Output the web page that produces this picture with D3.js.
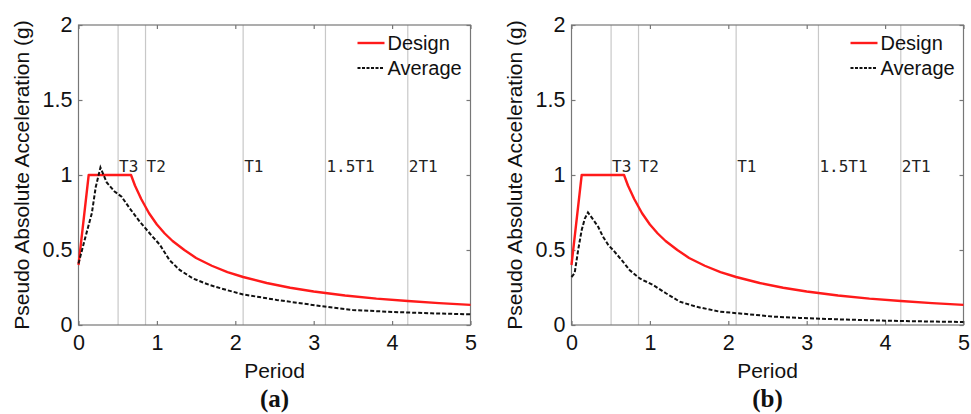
<!DOCTYPE html>
<html>
<head>
<meta charset="utf-8">
<script src="https://cdn.jsdelivr.net/npm/d3@7"></script>
<style>
  body { margin: 0; background: #fff; }
  svg text { font-family: "Liberation Sans", Arial, sans-serif; }
  svg text.ref { font-family: "DejaVu Sans Mono", monospace; }
  svg text.tag { font-family: "Liberation Serif", "Times New Roman", serif; font-weight: bold; }
</style>
</head>
<body>
<div id="chart"></div>
<script>
// Design spectrum (same in both panels)
const designT = [0, 0.13, 0.67, 0.72, 0.8, 0.9, 1.0, 1.1, 1.2, 1.35, 1.5, 1.7, 1.9, 2.1, 2.4, 2.7, 3.0, 3.4, 3.8, 4.2, 4.6, 5.0];
const designSa = [0.4, 1.0, 1.0, 0.93, 0.84, 0.745, 0.67, 0.61, 0.56, 0.50, 0.447, 0.395, 0.353, 0.32, 0.28, 0.248, 0.223, 0.197, 0.176, 0.16, 0.146, 0.134];

// Average spectrum, panel (a)
const avgAT = [0, 0.08, 0.17, 0.22, 0.28, 0.36, 0.46, 0.55, 0.65, 0.78, 0.91, 1.04, 1.16, 1.29, 1.46, 1.67, 1.89, 2.1, 2.53, 3.08, 3.5, 4.0, 4.5, 5.0];
const avgASa = [0.41, 0.57, 0.745, 0.92, 1.05, 0.95, 0.89, 0.855, 0.78, 0.69, 0.61, 0.533, 0.433, 0.367, 0.31, 0.267, 0.233, 0.204, 0.167, 0.127, 0.1, 0.087, 0.078, 0.071];

// Average spectrum, panel (b)
const avgBT = [0, 0.04, 0.085, 0.13, 0.17, 0.21, 0.28, 0.34, 0.4, 0.47, 0.53, 0.64, 0.74, 0.87, 1.04, 1.21, 1.38, 1.59, 1.89, 2.23, 2.57, 2.91, 3.5, 4.0, 4.5, 5.0];
const avgBSa = [0.32, 0.345, 0.5, 0.633, 0.71, 0.75, 0.70, 0.655, 0.59, 0.533, 0.50, 0.433, 0.367, 0.31, 0.267, 0.21, 0.156, 0.122, 0.089, 0.073, 0.056, 0.047, 0.036, 0.029, 0.024, 0.02];

// Reference periods (vertical lines)
const refLabels = ["T3", "T2", "T1", "1.5T1", "2T1"];
const refT = [0.505, 0.855, 2.1, 3.15, 4.2];

const xTicks = [0, 1, 2, 3, 4, 5];
const yTicks = [0, 0.5, 1, 1.5, 2];
const yTickLabels = ["0", "0.5", "1", "1.5", "2"];

const panels = [
  { tag: "(a)", left: 78.5, t: avgAT, sa: avgASa },
  { tag: "(b)", left: 571.5, t: avgBT, sa: avgBSa }
];

const W = 971, H = 414;
const plotTop = 25, pw = 392, ph = 300;

const svg = d3.select("#chart").append("svg")
  .attr("width", W).attr("height", H);

const x = d3.scaleLinear().domain([0, 5]).range([0, pw]);
const y = d3.scaleLinear().domain([0, 2]).range([ph, 0]);
const line = d3.line().x(d => x(d[0])).y(d => y(d[1]));

panels.forEach(p => {
  const g = svg.append("g").attr("transform", `translate(${p.left},${plotTop})`);

  // reference period lines
  refT.forEach((t, i) => {
    g.append("line")
      .attr("x1", x(t)).attr("x2", x(t))
      .attr("y1", 0).attr("y2", ph)
      .attr("stroke", "#c8c8c8").attr("stroke-width", 1.2);
    g.append("text")
      .attr("class", "ref")
      .attr("x", x(t) + 1).attr("y", y(1.02))
      .attr("font-size", 16)
      .attr("fill", "#222")
      .text(refLabels[i]);
  });

  // axes box and ticks
  const axColor = "#777";
  g.append("rect").attr("width", pw).attr("height", ph)
    .attr("fill", "none").attr("stroke", axColor).attr("stroke-width", 1.2);

  const axB = d3.axisBottom(x).tickValues(xTicks).tickSizeInner(-4).tickSizeOuter(0).tickPadding(10).tickFormat(d3.format("d"));
  const axT = d3.axisTop(x).tickValues(xTicks).tickSizeInner(-4).tickSizeOuter(0).tickFormat("");
  const axL = d3.axisLeft(y).tickValues(yTicks).tickSizeInner(-4).tickSizeOuter(0).tickPadding(6).tickFormat((d, i) => yTickLabels[i]);
  const axR = d3.axisRight(y).tickValues(yTicks).tickSizeInner(-4).tickSizeOuter(0).tickFormat("");

  [[axB, `translate(0,${ph})`], [axT, null], [axL, null], [axR, `translate(${pw},0)`]].forEach(([ax, tr]) => {
    const a = g.append("g").call(ax);
    if (tr) a.attr("transform", tr);
    a.select(".domain").remove();
    a.selectAll("line").attr("stroke", axColor).attr("stroke-width", 1.2);
    a.selectAll("text").attr("font-size", 21.5).attr("fill", "#111");
  });

  // curves
  g.append("path")
    .datum(designT.map((t, i) => [t, designSa[i]]))
    .attr("d", line).attr("fill", "none")
    .attr("stroke", "#ff1a1a").attr("stroke-width", 2.4)
    .attr("stroke-linejoin", "round");
  g.append("path")
    .datum(p.t.map((t, i) => [t, p.sa[i]]))
    .attr("d", line).attr("fill", "none")
    .attr("stroke", "#111").attr("stroke-width", 2)
    .attr("stroke-dasharray", "4,2");

  // legend
  const lg = g.append("g").attr("transform", `translate(${pw - 113},18)`);
  lg.append("line").attr("x1", 0).attr("x2", 27).attr("y1", 0).attr("y2", 0)
    .attr("stroke", "#ff1a1a").attr("stroke-width", 2.4);
  lg.append("text").attr("x", 30).attr("y", 7).attr("font-size", 20).attr("fill", "#111").text("Design");
  lg.append("line").attr("x1", 0).attr("x2", 27).attr("y1", 25).attr("y2", 25)
    .attr("stroke", "#111").attr("stroke-width", 2).attr("stroke-dasharray", "3,1.5");
  lg.append("text").attr("x", 30).attr("y", 32).attr("font-size", 20).attr("fill", "#111").text("Average");

  // axis titles
  g.append("text")
    .attr("transform", `translate(-50,${ph / 2}) rotate(-90)`)
    .attr("text-anchor", "middle").attr("font-size", 21).attr("fill", "#111")
    .text("Pseudo Absolute Acceleration (g)");
  g.append("text")
    .attr("x", pw / 2).attr("y", 353)
    .attr("text-anchor", "middle").attr("font-size", 21).attr("fill", "#111")
    .text("Period");
  g.append("text")
    .attr("class", "tag")
    .attr("x", pw / 2).attr("y", 382)
    .attr("text-anchor", "middle").attr("font-size", 25)
    .attr("fill", "#111")
    .text(p.tag);
});
</script>
</body>
</html>
